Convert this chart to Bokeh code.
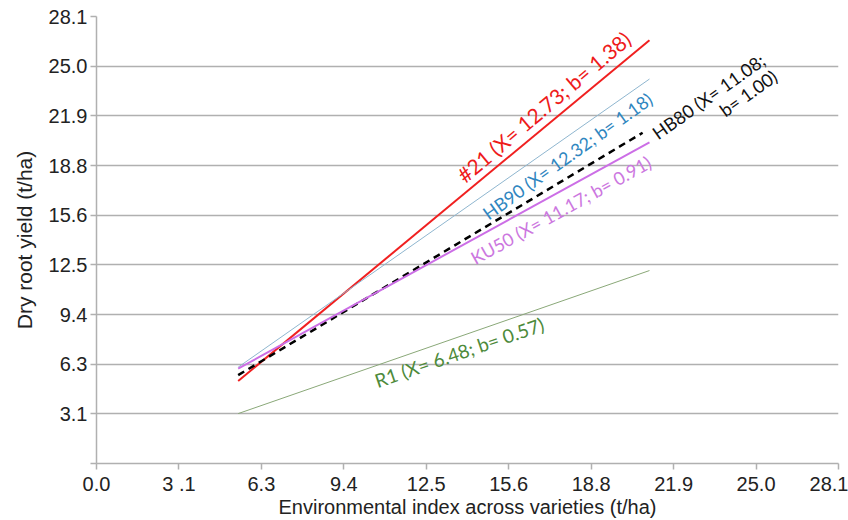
from bokeh.plotting import figure
from bokeh.models import Range1d, FixedTicker
from bokeh.core.properties import value
from bokeh.embed import file_html
from bokeh.resources import INLINE

# ---- data ----
varieties = ["#21", "HB90", "HB80", "KU50", "R1"]
mean_yield = [12.73, 12.32, 11.08, 11.17, 6.48]
slope_b = [1.38, 1.18, 1.00, 0.91, 0.57]
env_start = [5.37, 5.37, 5.37, 5.37, 5.37]
env_end = [20.96, 20.96, 20.70, 20.96, 20.96]
yield_start = [5.19, 6.06, 5.56, 5.97, 3.14]
yield_end = [26.63, 24.19, 20.81, 20.21, 12.14]

tick_values = [0.0, 3.125, 6.25, 9.375, 12.5, 15.625, 18.75, 21.875, 25.0, 28.125]
x_tick_labels = ["0.0", "3 .1", "6.3", "9.4", "12.5", "15.6", "18.8", "21.9", "25.0", "28.1"]
y_tick_labels = ["", "3.1", "6.3", "9.4", "12.5", "15.6", "18.8", "21.9", "25.0", "28.1"]

# ---- styles ----
line_colors = ["#f02020", "#8fb6cf", "#000000", "#cc6ee6", "#8aa878"]
line_widths = [2, 1, 2.5, 2, 1]
line_dashes = ["solid", "solid", "7 5", "solid", "solid"]
text_colors = ["#ee1a1a", "#2f86c0", "#111111", "#cc77e0", "#4d8a3a"]

# label anchors (layout), angle in degrees, font size
label_layout = {
    "#21": (16.95, 22.45, 40.3, "21px"),
    "HB90": (17.85, 19.35, 35.5, "18px"),
    "KU50": (17.6, 15.95, 29.0, "18px"),
    "R1": (13.75, 7.0, 19.0, "19px"),
}

p = figure(width=848, height=520, output_backend="svg", toolbar_location=None,
           x_range=Range1d(0, 28.125), y_range=Range1d(0, 28.125),
           min_border_left=96, min_border_right=10, min_border_top=16, min_border_bottom=54)
p.outline_line_color = None
p.background_fill_color = "white"

p.xaxis.ticker = FixedTicker(ticks=tick_values)
p.yaxis.ticker = FixedTicker(ticks=tick_values)
p.xaxis.major_label_overrides = {t: l for t, l in zip(tick_values, x_tick_labels)}
p.yaxis.major_label_overrides = {t: l for t, l in zip(tick_values, y_tick_labels)}

for ax in (p.xaxis, p.yaxis):
    ax.axis_line_color = "#b0b0b0"
    ax.axis_line_width = 1.5
    ax.major_tick_line_color = "#b0b0b0"
    ax.major_tick_line_width = 1.5
    ax.major_tick_in = 0
    ax.major_tick_out = 6
    ax.minor_tick_line_color = None
    ax.major_label_text_color = "#222222"
    ax.axis_label_text_color = "#222222"
    ax.axis_label_text_font_style = "normal"
    ax.major_label_text_font = "Liberation Sans"
    ax.axis_label_text_font = "Liberation Sans"

p.xaxis.major_label_text_font_size = "20px"
p.xaxis.major_label_standoff = 3
p.xaxis.axis_label = "Environmental index across varieties (t/ha)"
p.xaxis.axis_label_text_font_size = "20px"
p.xaxis.axis_label_standoff = -2

p.yaxis.major_label_text_font_size = "20px"
p.yaxis.major_label_standoff = 3
p.yaxis.axis_label = "Dry root yield (t/ha)"
p.yaxis.axis_label_text_font_size = "21px"
p.yaxis.axis_label_standoff = 10

p.xgrid.grid_line_color = None
p.ygrid.grid_line_color = "#b0b0b0"
p.ygrid.grid_line_width = 1.5

for i, v in enumerate(varieties):
    p.line([env_start[i], env_end[i]], [yield_start[i], yield_end[i]],
           line_color=line_colors[i], line_width=line_widths[i], line_dash=line_dashes[i])

font = value("Lato")
for i, v in enumerate(varieties):
    if v in label_layout:
        lx, ly, ang, fs = label_layout[v]
        txt = f"{v} (X= {mean_yield[i]:.2f}; b= {slope_b[i]:.2f})"
        p.text([lx], [ly], text=[txt], angle=ang, angle_units="deg",
               text_align="center", text_baseline="middle",
               text_color=text_colors[i], text_font=font, text_font_size=fs)

# HB80 label in two lines
i = varieties.index("HB80")
p.text([23.2], [23.1], text=[f"{varieties[i]} (X= {mean_yield[i]:.2f};"], angle=35.3,
       angle_units="deg", text_align="center", text_baseline="middle",
       text_color=text_colors[i], text_font=font, text_font_size="18px")
p.text([24.7], [23.3], text=[f"b= {slope_b[i]:.2f})"], angle=35.3,
       angle_units="deg", text_align="center", text_baseline="middle",
       text_color=text_colors[i], text_font=font, text_font_size="18px")

open("out.html", "w").write(file_html(p, INLINE))
